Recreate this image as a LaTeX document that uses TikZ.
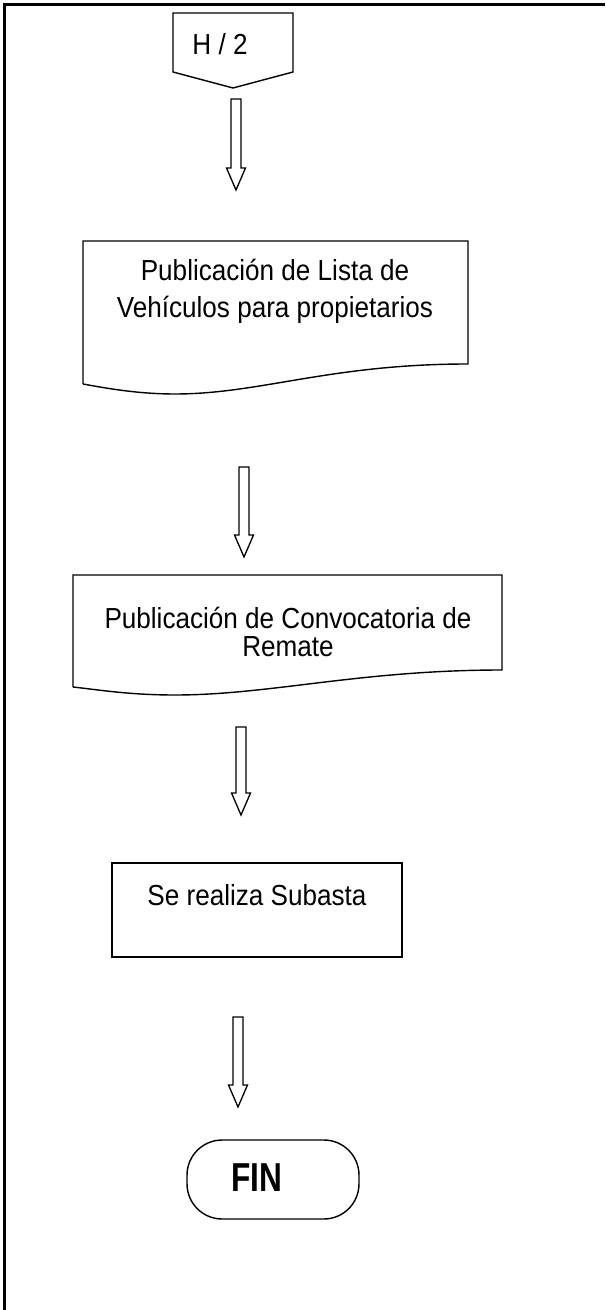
\documentclass[tikz,border=0pt]{standalone}
\usepackage{fontspec}
\setmainfont{Liberation Sans}[FakeStretch=0.9]
\usetikzlibrary{calc}
\tikzset{
  linea/.style={line width=0.8pt},
  texto/.style={font=\fontsize{16.5}{16}\selectfont, align=center, inner sep=0pt},
  hueca/.style={line width=0.75pt,
    to path={($(\tikztostart)+(-5,0)$) -- ($(\tikztostart)+(5,0)$)
      -- ($(\tikztotarget)+(5,-22)$) -- ($(\tikztotarget)+(9.5,-22)$)
      -- (\tikztotarget) -- ($(\tikztotarget)+(-9.5,-22)$)
      -- ($(\tikztotarget)+(-5,-22)$) -- cycle}}
}
\begin{document}
\begin{tikzpicture}[x=0.02cm,y=-0.02cm]
	\useasboundingbox (0,0) rectangle (605,1310);
	\draw[line width=1.7pt](4.5,1310)--(4.5,4.5)--(605,4.5);
%	connector H/2
	\draw[linea](173,13)--(293,13)--(293,72)--(233,88)--(173,72)--cycle;
	\node[texto] (hdos) at (220,44) {H / 2};
	\coordinate (f1a) at (236,99);
	\coordinate (f1b) at (236,190);
	\draw[hueca] (f1a) to (f1b);
%	documento 1
	\draw[linea](83,384)--(83,241)--(468,241)--(468,364)
		.. controls (330,364) and (260,394) .. (175,394)
		.. controls (140,394) and (110,389) .. (83,384);
	\node[texto] (lista) at (275,291) {Publicación de Lista de\\[5pt]Vehículos para propietarios};
	\coordinate (f2a) at (244,467);
	\coordinate (f2b) at (244,557);
	\draw[hueca] (f2a) to (f2b);
%	documento 2
	\draw[linea](73,687)--(73,575)--(502,575)--(502,670)
		.. controls (360,670) and (270,695) .. (175,695)
		.. controls (130,695) and (100,690) .. (73,687);
	\node[texto] (remate) at (288,632) {Publicación de Convocatoria de\\Remate};
	\coordinate (f3a) at (241,727);
	\coordinate (f3b) at (241,815);
	\draw[hueca] (f3a) to (f3b);
%	proceso
	\draw[linea](112,863) rectangle (402,957);
	\node[texto] (subasta) at (257,895) {Se realiza Subasta};
	\coordinate (f4a) at (238,1017);
	\coordinate (f4b) at (238,1107);
	\draw[hueca] (f4a) to (f4b);
%	terminal
	\node[linea, draw, rounded corners=20pt, minimum width=3.44cm, minimum height=1.58cm] (fin) at (273,1179.5) {};
	\node[font=\bfseries\fontsize{23}{23}\selectfont, inner sep=0pt] (fintxt) at (257,1178) {\scalebox{0.87}[1]{FIN}};
\end{tikzpicture}
\end{document}
